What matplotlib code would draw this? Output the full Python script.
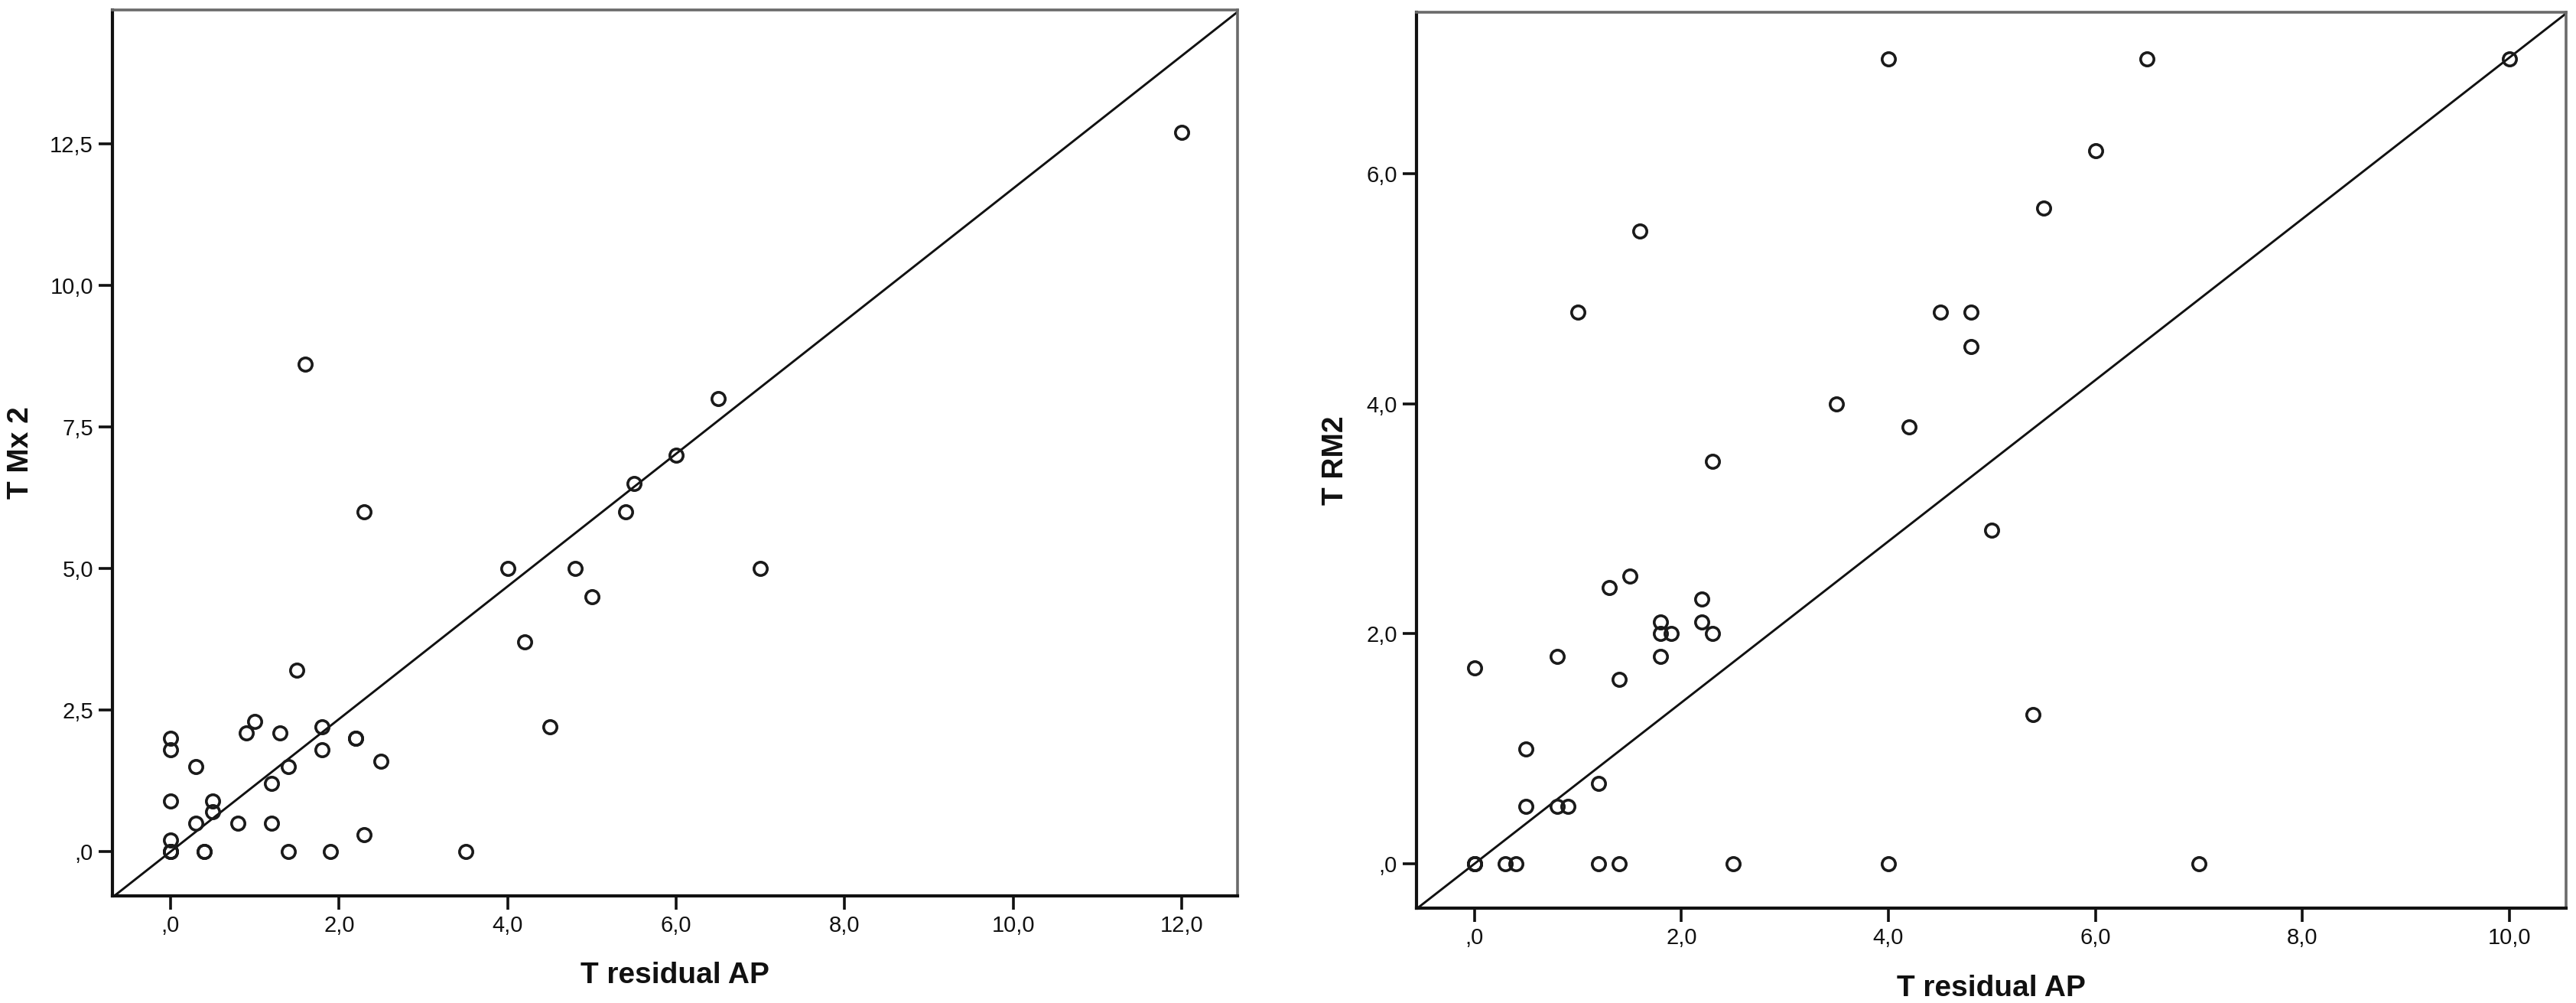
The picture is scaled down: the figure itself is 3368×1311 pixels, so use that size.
import matplotlib
matplotlib.use("Agg")
import matplotlib.pyplot as plt
from matplotlib.ticker import FuncFormatter, FixedLocator

plt.rcParams['font.family'] = ['Liberation Sans', 'DejaVu Sans']

# ---------------- data ----------------
# Left panel: T residual AP vs T Mx 2
left_x = [12.0, 1.6, 6.5, 6.0, 5.5, 5.4, 2.3, 4.0, 4.8, 7.0, 5.0, 4.2, 1.5, 4.5,
          1.0, 0.9, 1.3, 1.8, 2.2, 2.2, 0.0, 0.0, 0.3, 1.4, 1.8, 2.5, 1.2, 0.0,
          0.5, 0.5, 0.3, 0.8, 1.2, 0.0, 0.0, 0.0, 0.0, 0.4, 0.4, 1.4, 1.9, 2.3, 3.5]
left_y = [12.7, 8.6, 8.0, 7.0, 6.5, 6.0, 6.0, 5.0, 5.0, 5.0, 4.5, 3.7, 3.2, 2.2,
          2.3, 2.1, 2.1, 2.2, 2.0, 2.0, 2.0, 1.8, 1.5, 1.5, 1.8, 1.6, 1.2, 0.9,
          0.9, 0.7, 0.5, 0.5, 0.5, 0.2, 0.0, 0.0, 0.0, 0.0, 0.0, 0.0, 0.0, 0.3, 0.0]

# Right panel: T residual AP vs T RM2
right_x = [4.0, 6.5, 10.0, 6.0, 5.5, 1.6, 1.0, 4.5, 4.8, 4.8, 3.5, 4.2, 2.3, 5.0,
           1.5, 1.3, 2.2, 1.8, 2.2, 1.8, 1.9, 2.3, 1.8, 0.8, 0.0, 1.4, 5.4, 0.5,
           1.2, 0.5, 0.8, 0.9, 0.0, 0.0, 0.0, 0.3, 0.4, 1.2, 1.4, 2.5, 4.0, 7.0]
right_y = [7.0, 7.0, 7.0, 6.2, 5.7, 5.5, 4.8, 4.8, 4.8, 4.5, 4.0, 3.8, 3.5, 2.9,
           2.5, 2.4, 2.3, 2.1, 2.1, 2.0, 2.0, 2.0, 1.8, 1.8, 1.7, 1.6, 1.3, 1.0,
           0.7, 0.5, 0.5, 0.5, 0.0, 0.0, 0.0, 0.0, 0.0, 0.0, 0.0, 0.0, 0.0, 0.0]

# reference lines through origin (slope)
left_ref_slope = 1.171
right_ref_slope = 0.701

x_label = "T residual AP"
left_ylabel = "T Mx 2"
right_ylabel = "T RM2"

left_xticks = [0, 2, 4, 6, 8, 10, 12]
left_yticks = [0, 2.5, 5.0, 7.5, 10.0, 12.5]
right_xticks = [0, 2, 4, 6, 8, 10]
right_yticks = [0, 2, 4, 6]


def spss_fmt(v, pos=None):
    s = f"{v:.1f}".replace('.', ',')
    if s.startswith('0,'):
        s = s[1:]
    return s


fig = plt.figure(figsize=(33.68, 13.11), dpi=100)
axL = fig.add_axes([0.0436, 0.1068, 0.4368, 0.8833])
axR = fig.add_axes([0.5499, 0.0946, 0.4463, 0.8932])


def style(ax, xs, ys, slope, xlim, ylim, xticks, yticks, ylabel, ylab_x, xlab_y):
    ax.set_xlim(*xlim)
    ax.set_ylim(*ylim)
    ax.axline((0, 0), slope=slope, color='#111111', lw=2.1, zorder=2)
    ax.plot(xs, ys, linestyle='none', marker='o', markersize=12.5,
            markerfacecolor='none', markeredgecolor='#1a1a1a',
            markeredgewidth=2.6, zorder=3)
    ax.xaxis.set_major_locator(FixedLocator(xticks))
    ax.yaxis.set_major_locator(FixedLocator(yticks))
    ax.xaxis.set_major_formatter(FuncFormatter(spss_fmt))
    ax.yaxis.set_major_formatter(FuncFormatter(spss_fmt))
    ax.tick_params(axis='both', direction='out', length=13, width=2.6,
                   labelsize=21, color='#111111', labelcolor='#111111', pad=5)
    for side in ['left', 'bottom']:
        ax.spines[side].set_color('#111111')
        ax.spines[side].set_linewidth(3.0)
    for side in ['top', 'right']:
        ax.spines[side].set_color('#6a6a6a')
        ax.spines[side].set_linewidth(2.6)
    ax.set_xlabel(x_label, fontsize=28, fontweight='bold', color='#111111')
    ax.set_ylabel(ylabel, fontsize=28, fontweight='bold', color='#111111')
    ax.xaxis.set_label_coords(0.5, xlab_y)
    ax.yaxis.set_label_coords(ylab_x, 0.5)


style(axL, left_x, left_y, left_ref_slope, (-0.69, 12.66), (-0.78, 14.86),
      left_xticks, left_yticks, left_ylabel, -0.069, -0.074)
style(axR, right_x, right_y, right_ref_slope, (-0.56, 10.55), (-0.386, 7.405),
      right_xticks, right_yticks, right_ylabel, -0.0585, -0.074)

fig.savefig("out.png", dpi=100, facecolor='white')
